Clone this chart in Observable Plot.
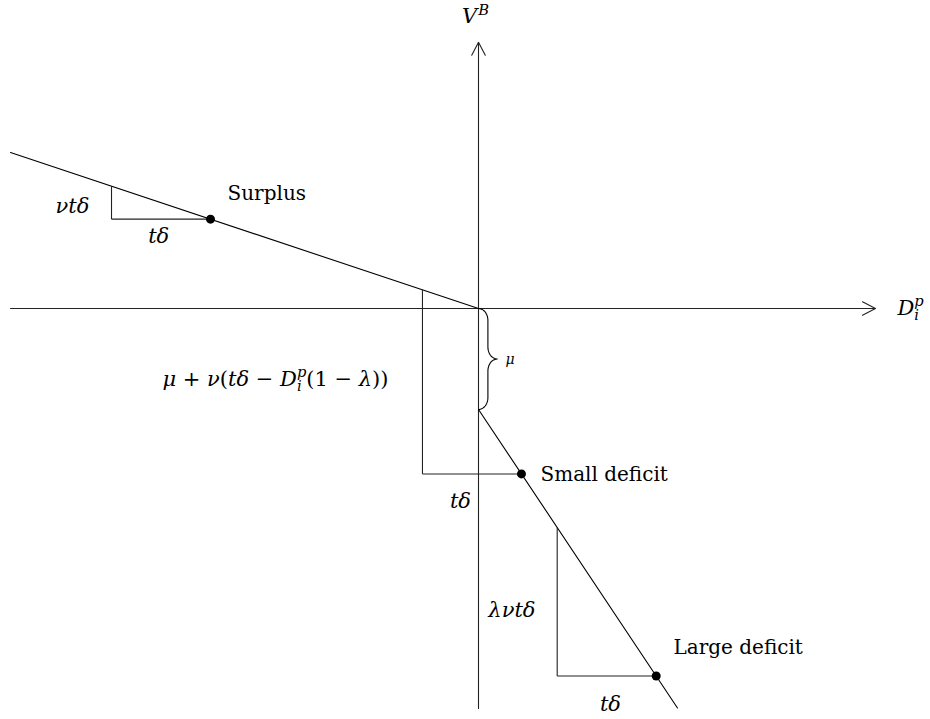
<!DOCTYPE html>
<html>
<head>
<meta charset="utf-8">
<script src="https://cdn.jsdelivr.net/npm/d3@7"></script>
<script src="https://cdn.jsdelivr.net/npm/@observablehq/plot@0.6"></script>
<style>
  html, body { margin: 0; padding: 0; background: #fff; }
  svg { display: block; }
</style>
</head>
<body>
<script>
// ---- parameters (units: tδ = 1) ----
const nu = 1 / 3;          // slope of the surplus branch
const lambdaNu = 1.5;      // slope of the deficit branch
const mu = 1.02;           // jump at the origin
const td = 1;              // tδ step

// branch extents
const surplusBranchX = [-4.727, 0];
const deficitBranchX = [0, 2.01];

// marked points (x positions along the axes)
const pointNames = ["Surplus", "Small deficit", "Large deficit"];
const pointX = [-2.707, 0.434, 1.795];

// axes extents
const xAxisRange = [-4.727, 4.01];
const yAxisRange = [-4.04, 2.69];

// value function, per branch
const Vs = x => -nu * x;
const Vd = x => -mu - lambdaNu * x;
const V = x => (x < 0 ? Vs(x) : Vd(x));

// labels
const labelText = ["V^{B}", "D_{i}^{p}", "νtδ", "tδ", "Surplus",
  "μ + ν(tδ − D_{i}^{p}(1 − λ))", "Small deficit", "tδ", "μ", "λνtδ", "Large deficit", "tδ"];
const labelX = [-0.03, 4.232, -3.93, -3.23, -2.535, -0.909, 0.626, -0.182, 0.273, 0.576, 1.97, 1.333];
const labelY = [2.95, 0.007, 1.03, 0.727, 1.162, -0.71, -1.675, -1.95, -0.515, -3.05, -3.425, -4.0];
const labelAnchor = ["middle", "start", "end", "middle", "start", "end", "start", "middle", "start", "end", "start", "middle"];
const labelSize = [21, 21, 21, 21, 20, 21, 20, 21, 14, 21, 20, 21];

// ---- derived tables ----
const branches = [
  ...surplusBranchX.map(x => ({x, y: Vs(x), b: "s"})),
  ...deficitBranchX.map(x => ({x, y: Vd(x), b: "d"}))
];
const points = pointNames.map((n, i) => ({name: n, x: pointX[i], y: V(pointX[i])}));

// slope triangles (vertical leg up to the line one tδ left, horizontal leg to the point)
const tri = [];
for (const p of points) {
  tri.push({x1: p.x - td, y1: V(p.x - td), x2: p.x - td, y2: p.y});
  tri.push({x1: p.x - td, y1: p.y, x2: p.x, y2: p.y});
}

// brace along the y axis from 0 down to -mu
const braceH = 0.095, braceR = 0.12;
const brace = [];
{
  const N = 12;
  const half = [];
  for (let k = 0; k <= N; k++) { const t = (k / N) * Math.PI / 2; half.push([braceH * Math.sin(t), -braceR + braceR * Math.cos(t)]); }
  for (let k = 0; k <= N; k++) { const t = (k / N) * Math.PI / 2; half.push([braceH + braceH * (1 - Math.cos(t)), -mu / 2 + braceR - braceR * Math.sin(t)]); }
  half.forEach(([x, y]) => brace.push({x, y}));
  half.slice().reverse().forEach(([x, y]) => brace.push({x, y: -mu - y}));
}

const labels = labelText.map((t, i) => ({t, x: labelX[i], y: labelY[i], anchor: labelAnchor[i], size: labelSize[i]}));

const FONT = "DejaVu Serif";
const textMarks = [];
for (const a of ["start", "middle", "end"]) {
  for (const s of [21, 20, 14]) {
    const sub = labels.filter(d => d.anchor === a && d.size === s);
    if (sub.length) textMarks.push(Plot.text(sub, {x: "x", y: "y", text: "t", textAnchor: a, fontSize: s, fontFamily: FONT, fill: "#000"}));
  }
}

const plot = Plot.plot({
  width: 930,
  height: 719,
  margin: 0,
  x: {domain: [-478 / 99, 452 / 99], axis: null},
  y: {domain: [-411 / 99, 308 / 99], axis: null},
  style: {background: "#fff", fontFamily: FONT},
  marks: [
    Plot.arrow([{x1: xAxisRange[0], y1: 0, x2: xAxisRange[1], y2: 0}], {x1: "x1", y1: "y1", x2: "x2", y2: "y2", stroke: "#222", strokeWidth: 1.1, headLength: 20, headAngle: 55}),
    Plot.arrow([{x1: 0, y1: yAxisRange[0], x2: 0, y2: yAxisRange[1]}], {x1: "x1", y1: "y1", x2: "x2", y2: "y2", stroke: "#222", strokeWidth: 1.1, headLength: 20, headAngle: 55}),
    Plot.line(branches, {x: "x", y: "y", z: "b", stroke: "#000", strokeWidth: 1.1}),
    Plot.link(tri, {x1: "x1", y1: "y1", x2: "x2", y2: "y2", stroke: "#222", strokeWidth: 1.1}),
    Plot.line(brace, {x: "x", y: "y", stroke: "#000", strokeWidth: 1.1, curve: "linear"}),
    Plot.dot(points, {x: "x", y: "y", r: 4.5, fill: "#000", stroke: "none"}),
    ...textMarks
  ]
});
document.body.appendChild(plot);

// ---- render math markup into tspans ----
const NS = "http://www.w3.org/2000/svg";
function parseMath(src) {
  const out = [];
  let i = 0;
  while (i < src.length) {
    const c = src[i];
    if ((c === "^" || c === "_") && src[i + 1] === "{") {
      const j = src.indexOf("}", i);
      out.push({text: src.slice(i + 2, j), role: c === "^" ? "sup" : "sub"});
      i = j + 1;
    } else {
      out.push({text: c, role: "base"});
      i++;
    }
  }
  return out;
}
const isMathLetter = ch => /[A-Za-zα-ωΑ-Ω]/.test(ch);
const MATH = new Set(labelText.filter(t => /[\^_νδμλ]/.test(t)));
d3.select(plot).selectAll("text").each(function () {
  const src = this.textContent;
  if (!MATH.has(src)) return;
  const size = parseFloat(getComputedStyle(this).fontSize) || 21;
  this.textContent = "";
  const parts = parseMath(src);
  let cur = 0;
  let lastSub = null;
  for (let k = 0; k < parts.length; k++) {
    const p = parts[k];
    if (p.role === "base") {
      let run = p.text, italic = isMathLetter(p.text);
      while (k + 1 < parts.length && parts[k + 1].role === "base" && isMathLetter(parts[k + 1].text) === italic) { run += parts[++k].text; }
      const ts = document.createElementNS(NS, "tspan");
      ts.setAttribute("font-style", italic ? "italic" : "normal");
      if (cur !== 0) { ts.setAttribute("dy", (-cur).toFixed(2)); cur = 0; }
      ts.textContent = run;
      this.appendChild(ts);
      lastSub = null;
    } else {
      const target = p.role === "sup" ? -0.4 * size : 0.27 * size;
      const ts = document.createElementNS(NS, "tspan");
      ts.setAttribute("font-style", "italic");
      ts.setAttribute("font-size", (0.7 * size).toFixed(1));
      ts.setAttribute("dy", (target - cur).toFixed(2));
      cur = target;
      if (p.role === "sup" && lastSub) {
        const w = lastSub.getComputedTextLength();
        ts.setAttribute("dx", (-w).toFixed(2));
      } else if (p.role === "sup") {
        ts.setAttribute("dx", (0.05 * size).toFixed(2));
      }
      ts.textContent = p.text;
      this.appendChild(ts);
      lastSub = p.role === "sub" ? ts : null;
    }
  }
});
</script>
</body>
</html>
